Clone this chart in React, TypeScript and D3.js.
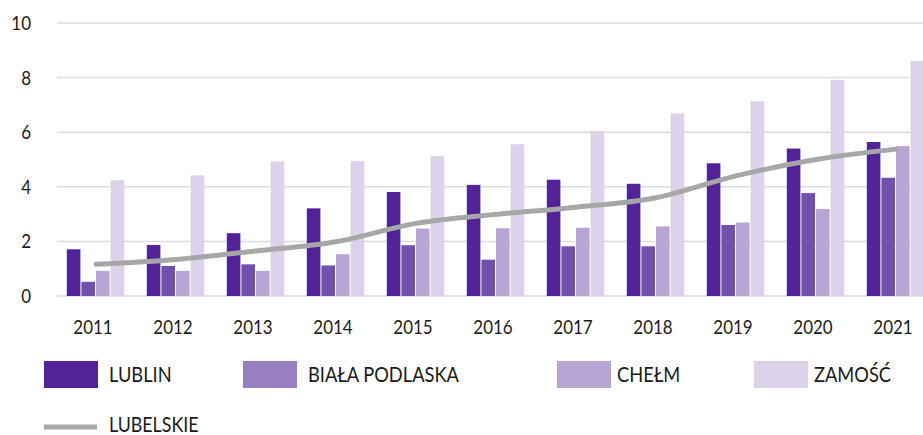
import React from "react";
import * as d3 from "d3";

const years = ["2011","2012","2013","2014","2015","2016","2017","2018","2019","2020","2021"];
const seriesNames = ["LUBLIN", "BIAŁA PODLASKA", "CHEŁM", "ZAMOŚĆ"];
const lublin = [1.71, 1.87, 2.30, 3.21, 3.81, 4.07, 4.26, 4.11, 4.86, 5.40, 5.64];
const bialaPodlaska = [0.52, 1.10, 1.16, 1.12, 1.86, 1.33, 1.82, 1.82, 2.60, 3.77, 4.33];
const chelm = [0.92, 0.92, 0.92, 1.53, 2.47, 2.48, 2.50, 2.55, 2.69, 3.19, 5.49];
const zamosc = [4.24, 4.42, 4.93, 4.94, 5.13, 5.56, 6.04, 6.69, 7.13, 7.92, 8.61];
const lubelskie = [1.16, 1.34, 1.65, 1.99, 2.66, 2.99, 3.25, 3.60, 4.40, 5.00, 5.38];
const yTicks = [0, 2, 4, 6, 8, 10];
const lineName = "LUBELSKIE";

const barColors = ["#522398", "#7150ab", "#b8a5d4", "#dcd2ea"];
const legendColors = ["#522398", "#977fc0", "#b8a5d4", "#dcd2ea"];
const lineColor = "#a7a7a9";
const FONT = "Lato, 'Open Sans', sans-serif";

export default function App() {
  const W = 923, H = 435;
  const series = [lublin, bialaPodlaska, chelm, zamosc];
  const x = d3.scaleBand<string>().domain(years).range([56, 936]).paddingInner(0.27).paddingOuter(0.135);
  const xi = d3.scaleBand<number>().domain([0, 1, 2, 3]).range([0, x.bandwidth()]).padding(0);
  const y = d3.scaleLinear().domain([0, 10]).range([296, 23]);
  const line = d3.line<number>()
    .x((_, i) => (x(years[i]) as number) + x.bandwidth() / 2)
    .y((d) => y(d))
    .curve(d3.curveMonotoneX);

  const legendItems = [
    { sx: 44, tx: 109 },
    { sx: 243, tx: 308 },
    { sx: 557, tx: 617 },
    { sx: 754, tx: 814 },
  ];
  const sx = 0.87;

  return (
    <svg width={W} height={H} style={{ position: "absolute", left: 0, top: 0, background: "#fff" }} fontFamily={FONT}>
      <g>
        {yTicks.map((t) => (
          <g key={t}>
            <line x1={57} x2={W} y1={y(t)} y2={y(t)} stroke="#dcdcdc" strokeWidth={1.5} />
            <text transform={`translate(31,${y(t)}) scale(${sx},1)`} dy="0.36em" textAnchor="end" fontSize={19.5} fill="#1a1a1a">{t}</text>
          </g>
        ))}
      </g>
      <g>
        {years.map((yr, i) => (
          <g key={yr} transform={`translate(${x(yr)},0)`}>
            {series.map((s, j) => (
              <rect key={j} x={(xi(j) as number)} y={y(s[i])} width={xi.bandwidth() - 1} height={y(0) - y(s[i])} fill={barColors[j]} />
            ))}
          </g>
        ))}
      </g>
      <path d={line(lubelskie) || ""} fill="none" stroke={lineColor} strokeWidth={5} strokeLinecap="round" />
      <g>
        {years.map((yr) => (
          <text key={yr} transform={`translate(${(x(yr) as number) + x.bandwidth() / 2 - 3},334) scale(${sx},1)`} textAnchor="middle" fontSize={19.5} fill="#1a1a1a">{yr}</text>
        ))}
      </g>
      <g>
        {seriesNames.map((n, j) => (
          <g key={n}>
            <rect x={legendItems[j].sx} y={361} width={54} height={27} fill={legendColors[j]} />
            <text transform={`translate(${legendItems[j].tx},382) scale(${sx},1)`} fontSize={21} fill="#1a1a1a">{n}</text>
          </g>
        ))}
        <line x1={44} x2={97} y1={427} y2={427} stroke={lineColor} strokeWidth={5} />
        <text transform={`translate(109,432) scale(${sx},1)`} fontSize={20.5} fill="#1a1a1a">{lineName}</text>
      </g>
    </svg>
  );
}
